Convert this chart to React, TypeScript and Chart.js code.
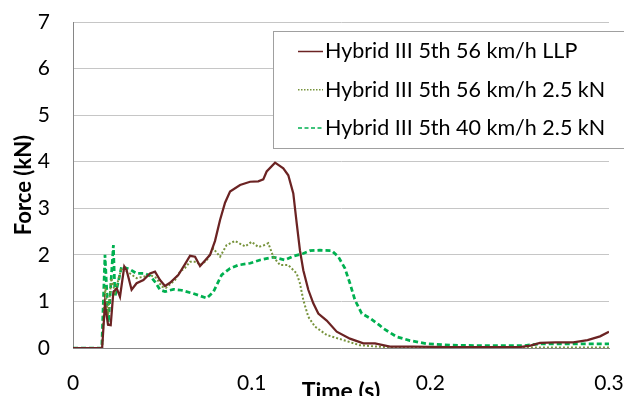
import React, { useEffect, useRef } from 'react';
import { Chart, registerables } from 'chart.js';

Chart.register(...registerables);

// ---- data ----
const seriesLabels = [
  'Hybrid III 5th 56 km/h LLP',
  'Hybrid III 5th 56 km/h 2.5 kN',
  'Hybrid III 5th 40 km/h 2.5 kN',
];

const llpTime = [0, 0.0163, 0.0179, 0.0196, 0.0211, 0.0226, 0.0245, 0.0263, 0.0287, 0.0300, 0.0328, 0.0356, 0.0394, 0.0431, 0.0459, 0.0487, 0.0515, 0.0543, 0.0590, 0.0627, 0.0655, 0.0683, 0.0711, 0.0739, 0.0767, 0.0795, 0.0823, 0.0851, 0.0879, 0.0935, 0.0991, 0.1037, 0.1065, 0.1084, 0.1131, 0.1177, 0.1205, 0.1233, 0.1252, 0.1270, 0.1289, 0.1317, 0.1345, 0.1373, 0.1420, 0.1476, 0.1550, 0.1625, 0.1690, 0.1774, 0.1900, 0.2100, 0.2300, 0.2500, 0.2560, 0.2614, 0.2700, 0.2800, 0.2880, 0.2950, 0.3000];
const llpForce = [0, 0, 0.95, 0.50, 0.49, 1.21, 1.28, 1.10, 1.75, 1.67, 1.25, 1.39, 1.46, 1.60, 1.64, 1.46, 1.33, 1.40, 1.57, 1.80, 1.98, 1.96, 1.76, 1.88, 2.00, 2.30, 2.75, 3.12, 3.36, 3.50, 3.57, 3.58, 3.62, 3.79, 3.98, 3.86, 3.71, 3.32, 2.68, 2.10, 1.67, 1.25, 0.96, 0.74, 0.59, 0.35, 0.20, 0.10, 0.10, 0.03, 0.03, 0.02, 0.02, 0.02, 0.05, 0.11, 0.12, 0.12, 0.17, 0.25, 0.35];

const kn56Time = [0, 0.0163, 0.0180, 0.0196, 0.0215, 0.0235, 0.0272, 0.0319, 0.0356, 0.0394, 0.0431, 0.0468, 0.0496, 0.0520, 0.0571, 0.0599, 0.0627, 0.0655, 0.0692, 0.0711, 0.0748, 0.0785, 0.0823, 0.0860, 0.0907, 0.0963, 0.1000, 0.1037, 0.1065, 0.1093, 0.1121, 0.1159, 0.1205, 0.1252, 0.1270, 0.1289, 0.1317, 0.1354, 0.1420, 0.1513, 0.1606, 0.1700, 0.1800, 0.2000, 0.2500, 0.3000];
const kn56Force = [0, 0, 1.30, 0.70, 1.50, 1.20, 1.72, 1.60, 1.50, 1.53, 1.57, 1.50, 1.32, 1.29, 1.46, 1.64, 1.72, 1.85, 1.85, 1.78, 1.88, 2.14, 1.96, 2.21, 2.30, 2.18, 2.28, 2.17, 2.20, 2.25, 1.96, 1.78, 1.78, 1.60, 1.39, 1.03, 0.67, 0.46, 0.28, 0.17, 0.06, 0.03, 0.01, 0.01, 0.01, 0.01];

const kn40Time = [0, 0.0161, 0.0179, 0.0198, 0.0226, 0.0235, 0.0272, 0.0319, 0.0356, 0.0403, 0.0431, 0.0459, 0.0487, 0.0515, 0.0562, 0.0608, 0.0673, 0.0748, 0.0785, 0.0832, 0.0879, 0.0925, 0.0991, 0.1047, 0.1121, 0.1187, 0.1233, 0.1289, 0.1327, 0.1382, 0.1448, 0.1485, 0.1522, 0.1550, 0.1578, 0.1616, 0.1662, 0.1715, 0.1737, 0.1812, 0.1886, 0.1980, 0.2110, 0.2300, 0.2520, 0.2614, 0.3000];
const kn40Force = [0, 0, 2.00, 0.55, 2.21, 1.10, 1.75, 1.69, 1.60, 1.60, 1.55, 1.42, 1.25, 1.21, 1.26, 1.24, 1.17, 1.07, 1.20, 1.57, 1.71, 1.78, 1.82, 1.89, 1.95, 1.89, 1.97, 2.03, 2.09, 2.10, 2.09, 1.96, 1.71, 1.39, 1.03, 0.74, 0.64, 0.49, 0.42, 0.24, 0.16, 0.09, 0.06, 0.05, 0.05, 0.09, 0.09];

const xTickValues = [0, 0.1, 0.2, 0.3];
const xTickLabels = ['0', '0.1', '0.2', '0.3'];
const yTickValues = [0, 1, 2, 3, 4, 5, 6, 7];
const yTickLabels = ['0', '1', '2', '3', '4', '5', '6', '7'];
const xTitle = 'Time (s)';
const yTitle = 'Force (kN)';

const FONT = 'Lato';

const toPoints = (t: number[], f: number[]) => t.map((x, i) => ({ x, y: f[i] }));

const boxLegend = {
  id: 'boxLegend',
  afterDraw(chart: any) {
    const ctx = chart.ctx as CanvasRenderingContext2D;
    ctx.save();
    const bx = 273.5, by = 31.5, bw = 400, bh = 117;
    ctx.fillStyle = '#ffffff';
    ctx.fillRect(bx, by, bw, bh);
    ctx.strokeStyle = '#a0a0a0';
    ctx.lineWidth = 1;
    ctx.strokeRect(bx, by, bw, bh);
    chart.data.datasets.forEach((ds: any, i: number) => {
      const y = 51.5 + i * 38.3;
      ctx.strokeStyle = ds.borderColor;
      ctx.lineWidth = 1.5;
      ctx.setLineDash(ds.legendDash || []);
      ctx.beginPath();
      ctx.moveTo(298, y);
      ctx.lineTo(323, y);
      ctx.stroke();
      ctx.setLineDash([]);
      ctx.fillStyle = '#000000';
      ctx.font = `21.5px ${FONT}`;
      ctx.textBaseline = 'middle';
      ctx.textAlign = 'left';
      ctx.fillText(ds.label, 325, y);
    });
    ctx.restore();
  },
};

export default function App() {
  const canvasRef = useRef<HTMLCanvasElement | null>(null);

  useEffect(() => {
    document.body.style.margin = '0';
    const canvas = canvasRef.current;
    if (!canvas) return;
    const chart = new Chart(canvas, {
      type: 'line',
      data: {
        datasets: [
          {
            label: seriesLabels[0],
            data: toPoints(llpTime, llpForce),
            borderColor: '#6b2323',
            borderWidth: 2.25,
            pointRadius: 0,
            tension: 0,
            legendDash: [],
          } as any,
          {
            label: seriesLabels[1],
            data: toPoints(kn56Time, kn56Force),
            borderColor: '#77933c',
            borderWidth: 2,
            borderDash: [2, 2],
            pointRadius: 0,
            tension: 0,
            legendDash: [1.5, 1.5],
          } as any,
          {
            label: seriesLabels[2],
            data: toPoints(kn40Time, kn40Force),
            borderColor: '#00b050',
            borderWidth: 2.75,
            borderDash: [5, 3],
            pointRadius: 0,
            tension: 0,
            legendDash: [4, 2.5],
          } as any,
        ],
      },
      options: {
        responsive: false,
        animation: false,
        devicePixelRatio: 1,
        layout: { padding: { top: 22, right: 15, left: 0, bottom: 0 } },
        plugins: { legend: { display: false }, tooltip: { enabled: false } },
        scales: {
          x: {
            type: 'linear',
            min: 0,
            max: 0.3,
            afterBuildTicks: (s: any) => {
              s.ticks = xTickValues.map((v) => ({ value: v }));
            },
            afterFit: (s: any) => {
              s.height = 48;
              s.paddingLeft = 0;
              s.paddingRight = 0;
            },
            grid: { display: false, drawTicks: false },
            border: { display: true, color: '#868686', width: 1 },
            ticks: {
              padding: 23,
              maxRotation: 0,
              autoSkip: false,
              color: '#000000',
              font: { family: FONT, size: 21 },
              callback: (_v: any, i: number) => xTickLabels[i],
            },
            title: {
              display: true,
              text: xTitle,
              color: '#000000',
              font: { family: FONT, size: 23, weight: 'bold' },
              padding: { top: 0, bottom: -9 },
            },
          },
          y: {
            type: 'linear',
            min: 0,
            max: 7,
            afterBuildTicks: (s: any) => {
              s.ticks = yTickValues.map((v) => ({ value: v }));
            },
            afterFit: (s: any) => {
              s.width = 73;
              s.paddingTop = 0;
              s.paddingBottom = 0;
            },
            grid: { color: '#c6c6c6', lineWidth: 1, drawTicks: false },
            border: { display: true, color: '#868686', width: 1 },
            ticks: {
              padding: 23,
              color: '#000000',
              font: { family: FONT, size: 21 },
              callback: (_v: any, i: number) => yTickLabels[i],
            },
            title: {
              display: true,
              text: yTitle,
              color: '#000000',
              font: { family: FONT, size: 22, weight: 'bold' },
              padding: { top: 11, bottom: 0 },
            },
          },
        },
      } as any,
      plugins: [boxLegend],
    });
    return () => chart.destroy();
  }, []);

  return (
    <div style={{ width: 624, height: 396 }}>
      <canvas ref={canvasRef} width={624} height={396} style={{ display: 'block' }} />
    </div>
  );
}
